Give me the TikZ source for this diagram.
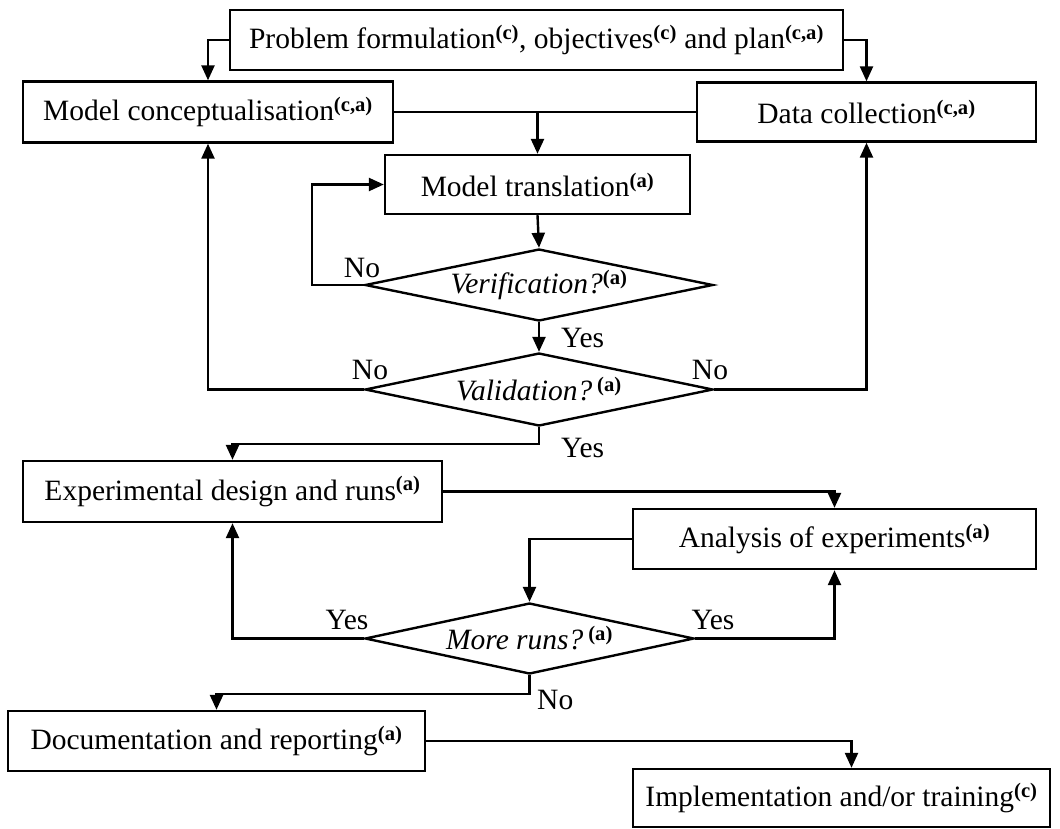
\documentclass[tikz,border=0pt]{standalone}
\usepackage{fontspec}
\setmainfont{Liberation Serif}
\usetikzlibrary{arrows.meta,shapes.geometric,calc}
\newcommand\spr[1]{\textsuperscript{\textbf{#1}}}
\newcommand\qtext[1]{\raisebox{-5pt}{\itshape #1}}
\begin{document}
\begin{tikzpicture}[x=1pt,y=-1pt,
  every node/.style={font=\fontsize{29.5}{34}\selectfont},
  stepbox/.style={draw,line width=2.4pt,inner sep=0pt,rectangle},
  decision/.style={draw,line width=2.4pt,inner sep=0pt,diamond},
  flow/.style={line width=2.4pt,-{Triangle[length=15pt,width=13pt]}},
  plain/.style={line width=2.4pt},
  lbl/.style={inner sep=0pt}]
\useasboundingbox (0,0) rectangle (1060,828);

% process boxes
\node[stepbox,minimum width=613pt,minimum height=60pt] (top) at (536.5,40)
  {Problem formulation\spr{(c)}, objectives\spr{(c)} and plan\spr{(c,a)}};
\node[stepbox,minimum width=370pt,minimum height=61pt] (mc) at (208,112)
  {Model conceptualisation\spr{(c,a)}};
\node[stepbox,minimum width=339pt,minimum height=59pt] (dc) at (866.5,112)
  {Data collection\spr{(c,a)}};
\node[stepbox,minimum width=305pt,minimum height=59pt] (mt) at (537.5,184.5)
  {Model translation\spr{(a)}};
\node[stepbox,minimum width=419pt,minimum height=61pt] (ed) at (232.5,491.5)
  {Experimental design and runs\spr{(a)}};
\node[stepbox,minimum width=403pt,minimum height=60pt] (an) at (834.5,539)
  {Analysis of experiments\spr{(a)}};
\node[stepbox,minimum width=417pt,minimum height=60pt] (doc) at (216.5,741)
  {Documentation and reporting\spr{(a)}};
\node[stepbox,minimum width=417pt,minimum height=58pt] (impl) at (841.5,798)
  {Implementation and/or training\spr{(c)}};

% decisions
\node[decision,aspect=4.8,minimum width=348pt,minimum height=72pt] (ver) at (539,285)
  {\qtext{Verification?\spr{\upshape(a)}}};
\node[decision,aspect=4.8,minimum width=348pt,minimum height=73pt] (val) at (539,389.5)
  {\qtext{Validation?\,\spr{\upshape(a)}}};
\node[decision,aspect=4.6,minimum width=329pt,minimum height=71pt] (mr) at (529.5,638.5)
  {\qtext{More runs?\,\spr{\upshape(a)}}};

% connectors
\draw[flow] (top.west) -| (mc.north);
\draw[flow] (top.east) -| (dc.north);
\draw[plain] (mc.east) -- (dc.west);
\coordinate (join) at (mt.north |- mc.east);
\draw[flow] (join) -- (mt.north);
\draw[flow] (mt.south) -- (ver.north);
\draw[flow] (ver.west) -- ++(-52,0) |- (mt.west);
\draw[flow] (ver.south) -- (val.north);
\draw[flow] (val.west) -| (mc.south);
\draw[flow] (val.east) -| (dc.south);
\draw[flow] (val.south) -- ++(0,17) -| (ed.north);
\draw[flow] (ed.east) -| (an.north);
\draw[flow] (an.west) -| (mr.north);
\draw[flow] (mr.west) -| (ed.south);
\draw[flow] (mr.east) -| (an.south);
\draw[flow] (mr.south) -- ++(0,19) -| (doc.north);
\draw[flow] (doc.east) -| ($(impl.north)+(10,0)$);

% branch labels
\node[lbl] (l1) at (362,268) {No};
\node[lbl,anchor=west] (l2) at (561,338) {Yes};
\node[lbl] (l3) at (370,370) {No};
\node[lbl] (l4) at (710,370) {No};
\node[lbl,anchor=west] (l5) at (561,448) {Yes};
\node[lbl] (l6) at (347,620) {Yes};
\node[lbl] (l7) at (713,620) {Yes};
\node[lbl,anchor=west] (l8) at (537,700) {No};
\end{tikzpicture}
\end{document}
